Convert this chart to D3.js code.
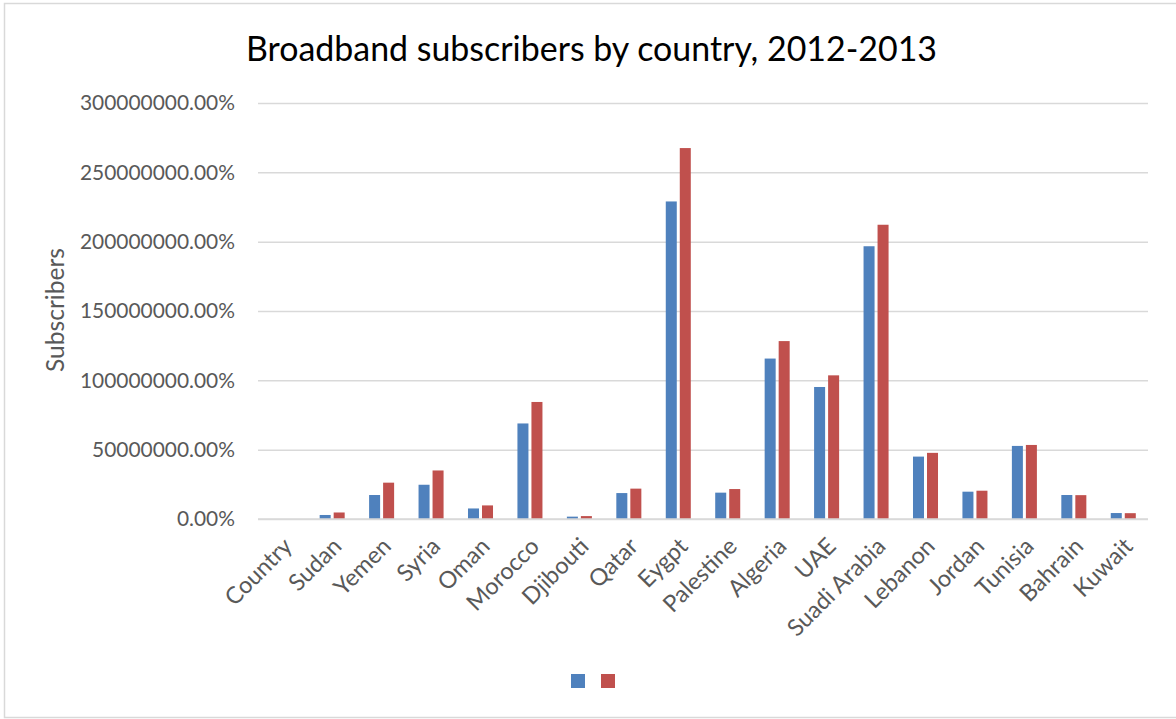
<!DOCTYPE html>
<html>
<head>
<meta charset="utf-8">
<script src="https://cdn.jsdelivr.net/npm/d3@7"></script>
<style>
  html, body { margin: 0; padding: 0; background: #fff; }
  svg { display: block; }
  text { font-family: Lato, "Open Sans", sans-serif; }
</style>
</head>
<body>
<svg id="chart" width="1176" height="719"></svg>
<script>
// Broadband subscribers per country, two consecutive years
const countries = ["Country", "Sudan", "Yemen", "Syria", "Oman", "Morocco", "Djibouti", "Qatar",
  "Eygpt", "Palestine", "Algeria", "UAE", "Suadi Arabia", "Lebanon", "Jordan", "Tunisia",
  "Bahrain", "Kuwait"];
const subs2012 = [0, 29000, 173000, 247000, 76000, 689000, 17000, 187000,
  2290000, 190000, 1157000, 952000, 1967000, 450000, 197000, 527000, 173000, 43000];
const subs2013 = [0, 47000, 262000, 350000, 98000, 844000, 21000, 219000,
  2675000, 216000, 1283000, 1036000, 2122000, 477000, 204000, 534000, 172000, 42000];
const seriesKeys = ["2012", "2013"];
const seriesColors = ["#4F81BD", "#C0504D"];
const yTicks = [0, 500000, 1000000, 1500000, 2000000, 2500000, 3000000];

const chartTitle = "Broadband subscribers by country, 2012-2013";
const yTitle = "Subscribers";

const svg = d3.select("#chart");

// chart frame
svg.append("rect")
  .attr("x", 4.5).attr("y", 3.5)
  .attr("width", 1180).attr("height", 714)
  .attr("fill", "#fff").attr("stroke", "#D9D9D9").attr("stroke-width", 1.5);

const plot = { left: 258, right: 1148, top: 103, bottom: 519 };

const x = d3.scaleBand().domain(countries).range([plot.left, plot.right]).padding(0);
const y = d3.scaleLinear().domain([0, 3000000]).range([plot.bottom, plot.top]);
const bw = x.bandwidth();
const xSub = d3.scaleBand().domain(seriesKeys)
  .range([bw * 0.247, bw * 0.753]).paddingInner(0.214).paddingOuter(0);

// fit a text node to a given width by adjusting font size
function fitWidth(sel, target) {
  const node = sel.node();
  let fs = parseFloat(sel.attr("font-size"));
  for (let i = 0; i < 4; i++) {
    const w = node.getComputedTextLength();
    if (!w) break;
    fs = fs * target / w;
    sel.attr("font-size", fs);
  }
  return fs;
}

// title
const title = svg.append("text")
  .attr("x", 591.5).attr("y", 61)
  .attr("text-anchor", "middle")
  .attr("font-size", 31)
  .attr("fill", "#000")
  .text(chartTitle);
fitWidth(title, 691);

// horizontal gridlines and y axis labels
const yAxis = d3.axisLeft(y).tickValues(yTicks)
  .tickFormat(d3.format(".2%"))
  .tickSize(-(plot.right - plot.left)).tickPadding(23);

const gy = svg.append("g")
  .attr("transform", `translate(${plot.left},0)`)
  .call(yAxis);
gy.select(".domain").remove();
gy.selectAll(".tick line").attr("stroke", "#D9D9D9").attr("stroke-width", 1.5);
gy.selectAll(".tick text")
  .attr("fill", "#595959")
  .attr("font-family", "Lato, 'Open Sans', sans-serif")
  .attr("font-size", 20.5);
// size tick labels so the widest one spans its measured width
const topLabel = gy.selectAll(".tick text").filter(d => d === 3000000);
const tickFs = fitWidth(topLabel, 155);
gy.selectAll(".tick text").attr("font-size", tickFs);

// y axis title
const yt = svg.append("text")
  .attr("transform", "translate(64,310) rotate(-90)")
  .attr("text-anchor", "middle")
  .attr("font-size", 22)
  .attr("fill", "#595959")
  .text(yTitle);
fitWidth(yt, 124);

// bars
const rows = countries.map((c, i) => ({ country: c, values: [subs2012[i], subs2013[i]] }));
const groups = svg.append("g").selectAll("g")
  .data(rows).join("g")
  .attr("transform", d => `translate(${x(d.country)},0)`);

groups.selectAll("rect")
  .data(d => d.values.map((v, k) => ({ key: seriesKeys[k], value: v, color: seriesColors[k] })))
  .join("rect")
  .attr("x", d => xSub(d.key))
  .attr("width", xSub.bandwidth())
  .attr("y", d => y(d.value))
  .attr("height", d => y(0) - y(d.value))
  .attr("fill", d => d.color);

// category axis line
svg.append("line")
  .attr("x1", plot.left).attr("x2", plot.right)
  .attr("y1", y(0)).attr("y2", y(0))
  .attr("stroke", "#D9D9D9").attr("stroke-width", 1.5);

// rotated category labels
const catFs = tickFs * 1.12;
svg.append("g").selectAll("text")
  .data(countries).join("text")
  .attr("transform", d => `translate(${x(d) + bw / 2 + 5},${plot.bottom + 23}) rotate(-45)`)
  .attr("text-anchor", "end")
  .attr("dy", "0.35em")
  .attr("font-size", catFs)
  .attr("fill", "#595959")
  .text(d => d);

// legend swatches
const legend = svg.append("g");
legend.selectAll("rect")
  .data(seriesKeys).join("rect")
  .attr("x", (d, i) => 571 + i * 30)
  .attr("y", 674)
  .attr("width", 14).attr("height", 14)
  .attr("fill", (d, i) => seriesColors[i]);
</script>
</body>
</html>
